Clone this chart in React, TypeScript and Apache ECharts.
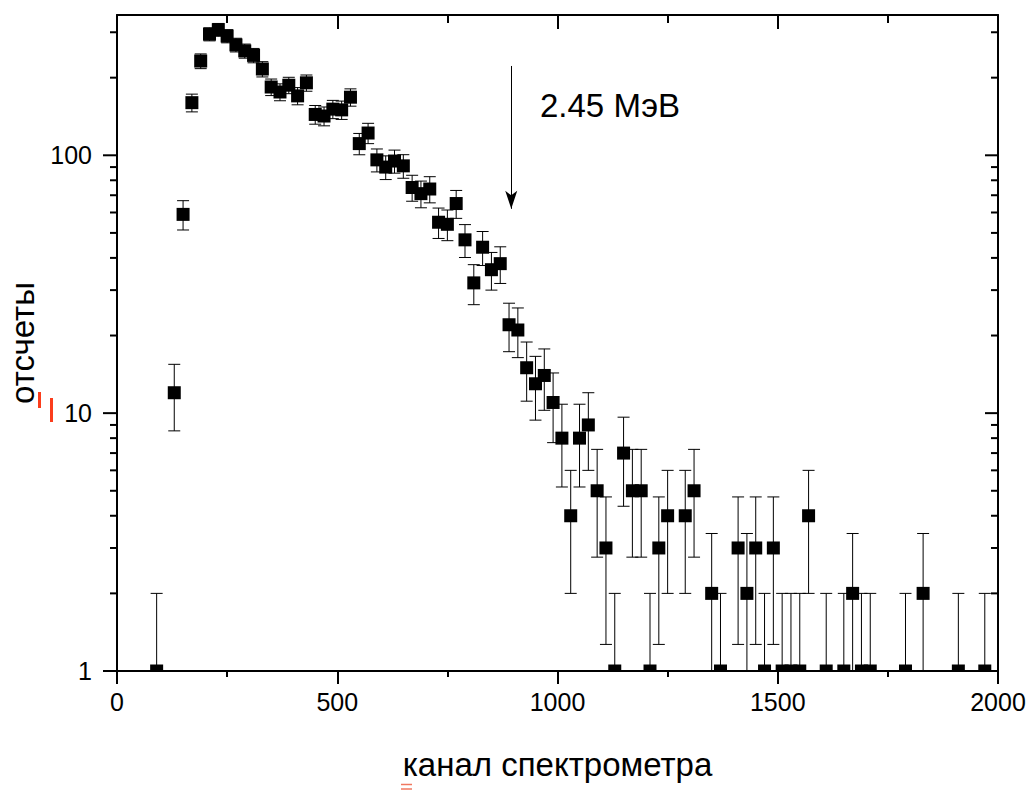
import React, { useEffect, useRef } from 'react';
import * as echarts from 'echarts';

// spectrometer channels (step 20) and counts
const channels = [
  90, 130, 150, 170, 190, 210, 230, 250, 270, 290,
  310, 330, 350, 370, 390, 410, 430, 450, 470, 490,
  510, 530, 550, 570, 590, 610, 630, 650, 670, 690,
  710, 730, 750, 770, 790, 810, 830, 850, 870, 890,
  910, 930, 950, 970, 990, 1010, 1030, 1050, 1070, 1090,
  1110, 1130, 1150, 1170, 1190, 1210, 1230, 1250, 1290, 1310,
  1350, 1370, 1410, 1430, 1450, 1470, 1490, 1510, 1530, 1550,
  1570, 1610, 1650, 1670, 1690, 1710, 1790, 1830, 1910, 1970,
];
const counts = [
  1, 12, 59, 160, 232, 295, 307, 290, 268, 254,
  244, 216, 184, 176, 187, 170, 191, 144, 142, 151,
  150, 168, 111, 122, 96, 90, 95, 91, 75, 71,
  74, 55, 54, 65, 47, 32, 44, 36, 38, 22,
  21, 15, 13, 14, 11, 8, 4, 8, 9, 5,
  3, 1, 7, 5, 5, 1, 3, 4, 4, 5,
  2, 1, 3, 2, 3, 1, 3, 1, 1, 1,
  4, 1, 1, 2, 1, 1, 1, 2, 1, 1,
];

const xTicks = [0, 500, 1000, 1500, 2000];
const yMajor = [1, 10, 100];
const yMinor = [2, 3, 4, 5, 6, 7, 8, 9, 20, 30, 40, 50, 60, 70, 80, 90, 200, 300];

const arrowChannel = 895;
const arrowFrom = 222;
const arrowTo = 62;

const FONT = '"Liberation Sans", Arial, sans-serif';

const App: React.FC = () => {
  const chartRef = useRef<HTMLDivElement>(null);

  useEffect(() => {
    document.body.style.margin = '0';
    if (!chartRef.current) return;
    const chart = echarts.init(chartRef.current, null, { renderer: 'svg' });

    const yMin = yMajor[0];
    // Poisson error of each count
    const bars = channels.map((c, i) => {
      const n = counts[i];
      const e = Math.sqrt(n);
      const lo = n - e;
      return [c, Math.max(lo, yMin), n + e, lo >= yMin ? 1 : 0];
    });
    const ticks = [
      ...yMajor.map((v) => [0, v, 1]),
      ...yMinor.map((v) => [0, v, 0]),
    ];

    const frameLine = { show: true, onZero: false, lineStyle: { color: '#000', width: 2 } };

    const option = {
      animation: false,
      textStyle: { fontFamily: FONT },
      grid: { left: 117, right: 36, top: 15, bottom: 121, containLabel: false, outerBoundsMode: 'none' },
      xAxis: [
        {
          type: 'value',
          min: xTicks[0],
          max: xTicks[xTicks.length - 1],
          interval: 500,
          position: 'bottom',
          name: 'канал спектрометра',
          nameLocation: 'middle',
          nameGap: 77,
          nameTextStyle: { fontSize: 33, color: '#000', fontFamily: FONT },
          axisLine: frameLine,
          axisTick: { show: true, inside: false, length: 13, lineStyle: { color: '#000', width: 2 } },
          minorTick: { show: true, splitNumber: 2, length: 6, lineStyle: { color: '#000', width: 2 } },
          axisLabel: {
            fontSize: 25,
            color: '#000',
            margin: 18,
            fontFamily: FONT,
            formatter: (v: number) => String(v),
          },
          splitLine: { show: false },
        },
        {
          type: 'value',
          min: xTicks[0],
          max: xTicks[xTicks.length - 1],
          interval: 500,
          position: 'top',
          axisLine: frameLine,
          axisTick: { show: true, inside: true, length: 14, lineStyle: { color: '#000', width: 2 } },
          minorTick: { show: true, splitNumber: 2, length: 8, lineStyle: { color: '#000', width: 2 } },
          axisLabel: { show: false },
          splitLine: { show: false },
        },
      ],
      yAxis: [
        {
          type: 'log',
          logBase: 10,
          min: 1,
          max: 350,
          position: 'left',
          name: 'отсчеты',
          nameLocation: 'middle',
          nameGap: 78,
          nameTextStyle: { fontSize: 33, color: '#000', fontFamily: FONT },
          axisLine: frameLine,
          axisTick: { show: false },
          axisLabel: {
            fontSize: 25,
            color: '#000',
            margin: 25,
            showMaxLabel: false,
            fontFamily: FONT,
            formatter: (v: number) => String(v),
          },
          splitLine: { show: false },
        },
        {
          type: 'log',
          logBase: 10,
          min: 1,
          max: 350,
          position: 'right',
          axisLine: frameLine,
          axisTick: { show: false },
          axisLabel: { show: false },
          splitLine: { show: false },
        },
      ],
      graphic: [
        {
          type: 'text',
          left: 540,
          top: 89,
          style: { text: '2.45 МэВ', fontSize: 33, fill: '#000', fontFamily: FONT },
        },
        { type: 'line', shape: { x1: 39.5, y1: 392, x2: 39.5, y2: 408 }, style: { stroke: '#fb3d1c', lineWidth: 3 } },
        { type: 'line', shape: { x1: 51.5, y1: 398, x2: 51.5, y2: 422 }, style: { stroke: '#fb3d1c', lineWidth: 3 } },
        { type: 'line', shape: { x1: 401, y1: 784.5, x2: 412, y2: 784.5 }, style: { stroke: '#f07860', lineWidth: 1.5 } },
        { type: 'line', shape: { x1: 401, y1: 789, x2: 412, y2: 789 }, style: { stroke: '#f07860', lineWidth: 1.5 } },
      ],
      series: [
        {
          type: 'custom',
          name: 'y ticks',
          xAxisIndex: 0,
          yAxisIndex: 0,
          silent: true,
          clip: false,
          z: 5,
          data: ticks,
          renderItem: (_p: any, api: any) => {
            const v = api.value(1);
            const major = api.value(2) === 1;
            const l = api.coord([xTicks[0], v]);
            const r = api.coord([xTicks[xTicks.length - 1], v]);
            const out = major ? 14 : 7;
            const inn = major ? 13 : 7;
            const st = { stroke: '#000', lineWidth: 2 };
            return {
              type: 'group',
              children: [
                { type: 'line', shape: { x1: l[0] - out, y1: l[1], x2: l[0], y2: l[1] }, style: st },
                { type: 'line', shape: { x1: r[0] - inn, y1: r[1], x2: r[0], y2: r[1] }, style: st },
              ],
            };
          },
        },
        {
          type: 'custom',
          name: 'errors',
          xAxisIndex: 0,
          yAxisIndex: 0,
          silent: true,
          clip: true,
          z: 2,
          data: bars,
          renderItem: (_p: any, api: any) => {
            const x = api.value(0);
            const lo = api.value(1);
            const hi = api.value(2);
            const cap = api.value(3) === 1;
            const t = api.coord([x, hi]);
            const b = api.coord([x, lo]);
            const st = { stroke: '#000', lineWidth: 1 };
            const children: any[] = [
              { type: 'line', shape: { x1: t[0], y1: t[1], x2: b[0], y2: b[1] }, style: st },
              { type: 'line', shape: { x1: t[0] - 6, y1: t[1], x2: t[0] + 6, y2: t[1] }, style: st },
            ];
            if (cap) {
              children.push({ type: 'line', shape: { x1: b[0] - 6, y1: b[1], x2: b[0] + 6, y2: b[1] }, style: st });
            }
            return { type: 'group', children };
          },
        },
        {
          type: 'custom',
          name: 'counts',
          xAxisIndex: 0,
          yAxisIndex: 0,
          silent: true,
          z: 3,
          data: channels.map((c, i) => [c, counts[i]]),
          renderItem: (_p: any, api: any) => {
            const p = api.coord([api.value(0), api.value(1)]);
            const floor = api.coord([api.value(0), yMin])[1];
            const half = 6.5;
            const top = p[1] - half;
            const bottom = Math.min(p[1] + half, floor);
            return {
              type: 'rect',
              shape: { x: p[0] - half, y: top, width: half * 2, height: bottom - top },
              style: { fill: '#000' },
            };
          },
          markLine: {
            silent: true,
            animation: false,
            label: { show: false },
            lineStyle: { color: '#000', width: 1, type: 'solid' },
            emphasis: { disabled: true },
            data: [
              [
                { coord: [arrowChannel, arrowFrom], symbol: 'none' },
                { coord: [arrowChannel, arrowTo], symbol: 'arrow', symbolSize: [9, 18] },
              ],
            ],
          },
        },
      ],
    };

    chart.setOption(option);
    return () => {
      chart.dispose();
    };
  }, []);

  return <div ref={chartRef} style={{ width: 1034, height: 792 }} />;
};

export default App;
